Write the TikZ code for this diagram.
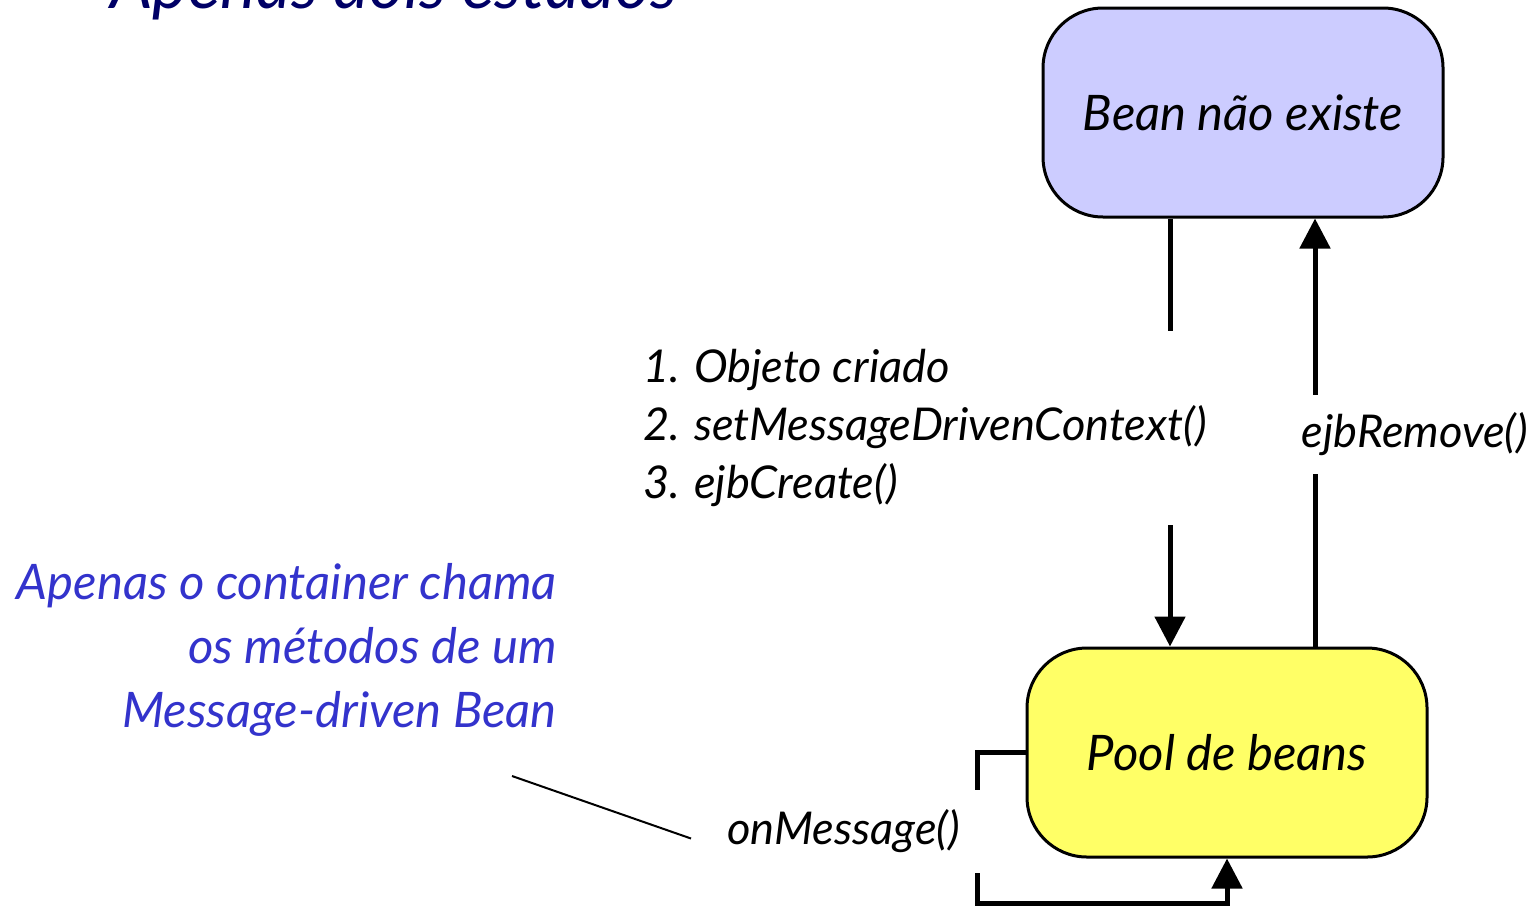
\documentclass[tikz,border=0pt]{standalone}
\usepackage{fontspec}
\setmainfont{Lato}
\usetikzlibrary{arrows.meta}
\definecolor{lavbox}{HTML}{CCCCFF}
\definecolor{yelbox}{HTML}{FFFF66}
\definecolor{noteblue}{HTML}{3333CC}
\definecolor{titlenavy}{HTML}{000066}

\begin{document}
\begin{tikzpicture}[x=0.5pt,y=-0.5pt,
  state/.style={draw,line width=1.5pt,rounded corners=30pt,minimum width=200pt,minimum height=104.5pt,font=\fontsize{24.5}{28}\selectfont\itshape},
  arr/.style={line width=2.5pt,-{Triangle[length=15pt,width=15pt]}},
  lbl/.style={fill=white,inner sep=0pt,font=\fontsize{22.6}{29}\selectfont\itshape,align=left}]
\useasboundingbox (0,0) rectangle (1534,905);
\node[anchor=base west,inner sep=0pt,text=titlenavy,font=\fontsize{33.7}{38}\selectfont\itshape] (title) at (110,8) {Apenas dois estados};
\node[state,fill=lavbox] (nonexist) at (1243,112.5) {\raisebox{-2pt}{Bean não existe}};
\node[state,fill=yelbox] (pool) at (1227,752.5) {\raisebox{-1.5pt}{Pool de beans}};
% transicoes
\draw[arr] ([xshift=-36.5pt]nonexist.south) -- ([xshift=-36.5pt]nonexist.south |- pool.north);
\draw[arr] ([xshift=44pt]pool.north) -- ([xshift=44pt]pool.north |- nonexist.south);
\draw[arr] (pool.west) -- ++(-48,0) -- ++(0,151) -| (pool.south);
\node[lbl,anchor=west,minimum height=97pt] (create) at (643,428) {1. Objeto criado\\2. setMessageDrivenContext()\\3. ejbCreate()};
\node[lbl,minimum height=39.5pt,inner xsep=3pt] (remove) at (1415,434.5) {ejbRemove()};
\node[lbl,anchor=west,minimum height=41.5pt,inner xsep=12pt] (onmsg) at (703,831.5) {onMessage()};
% nota
\node[anchor=east,inner sep=0pt,align=right,text=noteblue,font=\fontsize{24.5}{32}\selectfont\itshape] (note) at (557,650) {Apenas o container chama\\os métodos de um\\Message-driven Bean};
\coordinate (ptr) at (512,776);
\draw[line width=1pt] (ptr) -- ([xshift=-6pt,yshift=-3.5pt]onmsg.west);
\end{tikzpicture}
\end{document}
